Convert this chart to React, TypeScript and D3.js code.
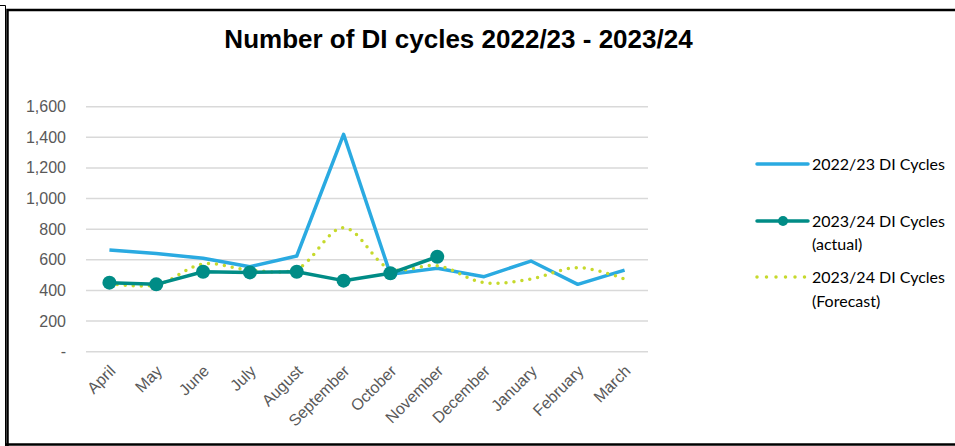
import React from "react";
import * as d3 from "d3";

const months = ["April","May","June","July","August","September","October","November","December","January","February","March"];
const cycles2223 = [664, 642, 610, 555, 625, 1420, 505, 545, 490, 592, 440, 533];
const actual2324 = [451, 440, 522, 518, 522, 464, 512, 620];
const forecast2324 = [445, 436, 573, 533, 540, 810, 540, 562, 451, 475, 549, 475];
const yTicks = [0, 200, 400, 600, 800, 1000, 1200, 1400, 1600];
const legendLabels = [["2022/23 DI Cycles"], ["2023/24 DI Cycles", "(actual)"], ["2023/24 DI Cycles", "(Forecast)"]];

const BLUE = "#2AAAE1";
const TEAL = "#008C86";
const LIME = "#C6D92C";

export default function App() {
  const W = 955, H = 446;
  const x = d3.scaleBand<string>().domain(months).range([86, 648]);
  const y = d3.scaleLinear().domain([0, 1600]).range([351.7, 106.7]);
  const cx = (m: string) => (x(m) as number) + x.bandwidth() / 2;

  const line = d3.line<number>().x((_, i) => cx(months[i])).y((d) => y(d));
  const smooth = d3.line<number>().x((_, i) => cx(months[i])).y((d) => y(d)).curve(d3.curveCatmullRom.alpha(0.5));
  const fmt = (v: number) => (v === 0 ? "-" : d3.format(",")(v));

  return (
    <svg width={W} height={H} style={{ position: "absolute", left: 0, top: 0, display: "block" }}>
      <rect x={0} y={0} width={W} height={H} fill="#fff" />
      <path d={`M7.5,${H} V10 H${W}`} fill="none" stroke="#000" strokeWidth={2.5} />
      <path d={`M0,5.5 H5.5 V${H}`} fill="none" stroke="#000" strokeWidth={1} />
      <line x1={6} x2={W} y1={444.5} y2={444.5} stroke="#000" strokeWidth={2.5} />
      <text x={458.5} y={48} textAnchor="middle" fontFamily="Liberation Sans, Arial, sans-serif" fontWeight="bold" fontSize={26} fill="#000">
        Number of DI cycles 2022/23  - 2023/24
      </text>
      {yTicks.map((t) => (
        <g key={t}>
          <line x1={86} x2={648} y1={y(t)} y2={y(t)} stroke="#D9D9D9" strokeWidth={1.5} />
          <text x={66} y={y(t) + 5.5} textAnchor="end" fontFamily="Liberation Sans, Arial, sans-serif" fontSize={16} fill="#595959">
            {fmt(t)}
          </text>
        </g>
      ))}
      {months.map((m) => (
        <text key={m} transform={`translate(${cx(m) + 7},${372}) rotate(-45)`} textAnchor="end" fontFamily="Liberation Sans, Arial, sans-serif" fontSize={16} fill="#595959">
          {m}
        </text>
      ))}
      <path d={line(cycles2223) as string} fill="none" stroke={BLUE} strokeWidth={3.5} strokeLinejoin="round" />
      <path d={smooth(forecast2324) as string} fill="none" stroke={LIME} strokeWidth={3.5} strokeDasharray="0 8" strokeLinecap="round" />
      <path d={line(actual2324) as string} fill="none" stroke={TEAL} strokeWidth={3.5} strokeLinejoin="round" />
      {actual2324.map((v, i) => (
        <circle key={i} cx={cx(months[i])} cy={y(v)} r={7} fill={TEAL} />
      ))}
      <g fontFamily="Lato, Calibri, sans-serif" fontSize={16} fill="#000">
        <line x1={757} x2={808} y1={164} y2={164} stroke={BLUE} strokeWidth={3.5} strokeLinecap="round" />
        <text x={812} y={170}>{legendLabels[0][0]}</text>
        <line x1={757} x2={808} y1={221} y2={221} stroke={TEAL} strokeWidth={3.5} strokeLinecap="round" />
        <circle cx={783} cy={221} r={5} fill={TEAL} />
        <text x={812} y={227}>{legendLabels[1][0]}</text>
        <text x={812} y={250}>{legendLabels[1][1]}</text>
        <line x1={757} x2={808} y1={277} y2={277} stroke={LIME} strokeWidth={3.5} strokeDasharray="0 9.5" strokeLinecap="round" />
        <text x={812} y={283}>{legendLabels[2][0]}</text>
        <text x={812} y={306.5}>{legendLabels[2][1]}</text>
      </g>
    </svg>
  );
}
